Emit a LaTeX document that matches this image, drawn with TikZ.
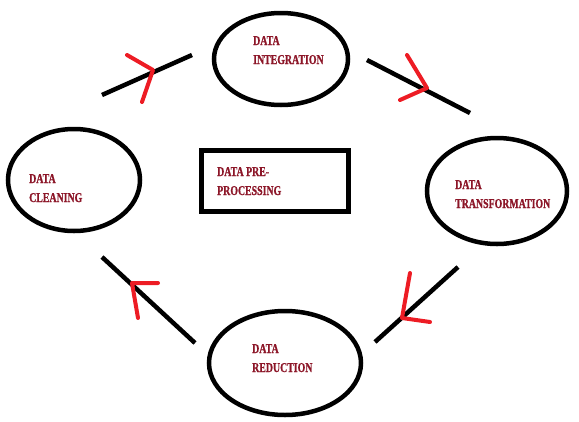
\documentclass[tikz,border=0pt]{standalone}
\usepackage{fontspec}
\newfontfamily\lbl[FakeStretch=0.73,FakeBold=1]{Liberation Serif}
\usetikzlibrary{shapes.geometric}
\definecolor{lblred}{RGB}{140,22,40}
\definecolor{arrred}{RGB}{237,28,36}
\tikzset{
  stage/.style={ellipse, draw=black, line width=4.5pt, inner sep=0pt},
  lbltext/.style={anchor=base west, align=left, text=lblred, inner sep=0pt,
    font=\lbl\bfseries\fontsize{13.5}{19}\selectfont},
  link/.style={draw=black, line width=4.5pt},
  tip/.style={draw=arrred, line width=4pt, line cap=round, line join=round}
}
\begin{document}
\begin{tikzpicture}[x=1pt,y=-1pt]
\useasboundingbox (0,0) rectangle (579,421);
% stages
\node[stage, minimum width=134pt, minimum height=92pt] (integ) at (281,59) {};
\node[stage, minimum width=132pt, minimum height=102pt] (clean) at (74,180) {};
\node[stage, minimum width=140pt, minimum height=106pt] (trans) at (497,191) {};
\node[stage, minimum width=152pt, minimum height=104pt] (reduc) at (285,363) {};
\node[draw=black, line width=4.5pt, minimum width=147pt, minimum height=61pt, inner sep=0pt] (pre) at (275,181) {};
% labels (anchored at the baseline of the last line)
\node[lbltext] (tinteg) at (253,64) {DATA\\INTEGRATION};
\node[lbltext] (tclean) at (29,202) {DATA\\CLEANING};
\node[lbltext] (ttrans) at (455,208) {DATA\\TRANSFORMATION};
\node[lbltext] (treduc) at (252,372) {DATA\\REDUCTION};
\node[lbltext] (tpre) at (217,195) {DATA PRE-\\PROCESSING};
% connector ends
\coordinate (a1) at (102,95); \coordinate (a2) at (192,55);
\coordinate (b1) at (367,60); \coordinate (b2) at (470,113);
\coordinate (c1) at (458,267); \coordinate (c2) at (375,342);
\coordinate (d1) at (195,343); \coordinate (d2) at (102,257);
\draw[link] (a1) -- (a2);
\draw[link] (b1) -- (b2);
\draw[link] (c1) -- (c2);
\draw[link] (d1) -- (d2);
% red arrow heads
\draw[tip] (127,55) -- (153,70) -- (142,102);
\draw[tip] (407,55) -- (427,88) -- (400,100);
\draw[tip] (410,273) -- (402,318) -- (430,322);
\draw[tip] (158,283) -- (132,283) -- (138,318);
\end{tikzpicture}
\end{document}
